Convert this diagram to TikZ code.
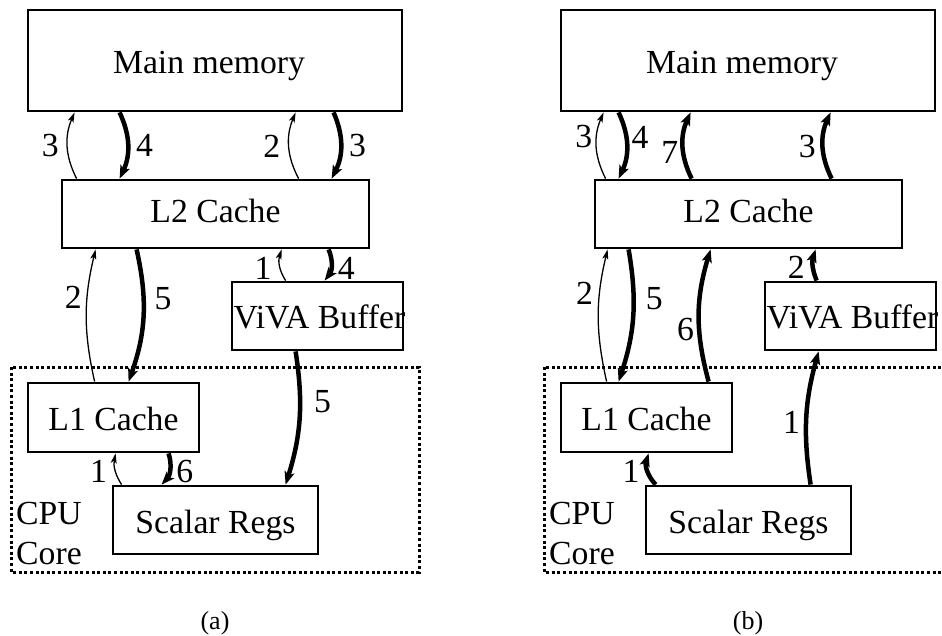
\documentclass[tikz,border=0pt]{standalone}
\usepackage{fontspec}
\setmainfont{Liberation Serif}
\usetikzlibrary{arrows.meta}

% One memory-hierarchy panel: boxes, dotted CPU core frame and caption
\newcommand{\memboxes}[2]{%
  \node[box, minimum width=374pt, minimum height=101pt, text height=27pt] (mm#1) at (215,60.5) {\hspace*{-12pt}Main memory};
  \node[box, minimum width=307pt, minimum height=68pt, text height=18pt] (ltwo#1) at (215.5,214) {L2 Cache};
  \node[box, minimum width=171pt, minimum height=68pt, text height=24pt] (vb#1) at (317.5,316) {\makebox[168pt][l]{ViVA Buffer}};
  \node[box, minimum width=171pt, minimum height=69pt] (lone#1) at (113.5,417.5) {L1 Cache};
  \node[box, minimum width=205pt, minimum height=68pt] (sr#1) at (215.5,520) {Scalar Regs};
  \draw[corebox] (11,367) rectangle (419,572);
  \node[lbl, anchor=base west] (cpu#1) at (16,524) {CPU};
  \node[lbl, anchor=base west] (core#1) at (16,564) {Core};
  \node[caption] (cap#1) at (215,629) {(#2)};
}

\begin{document}
\begin{tikzpicture}[x=1pt,y=-1pt,
  box/.style={draw, line width=2.8pt, inner sep=0pt,
    font=\fontsize{33.7}{40}\selectfont, text height=26pt, text depth=0pt},
  lbl/.style={inner sep=0pt, font=\fontsize{33.7}{40}\selectfont},
  caption/.style={inner sep=0pt, anchor=base, font=\fontsize{26}{30}\selectfont},
  corebox/.style={line width=3pt, dash pattern=on 3pt off 2.6pt},
  lightflow/.style={line width=1.3pt, -{Stealth[length=10pt,width=6pt,inset=2.5pt]}},
  heavyflow/.style={line width=4.5pt, -{Stealth[length=13pt,width=10pt,inset=3pt]}},
]
\useasboundingbox (0,0) rectangle (942,636);
\clip (0,0) rectangle (942,636);

% ---------------- panel (a) ----------------
\memboxes{a}{a}
\draw[lightflow] ([xshift=16pt]ltwoa.north west) to[bend left=25]
  node[lbl, pos=0.5, left=8pt] (na1) {3} ([xshift=48pt]mma.south west);
\draw[heavyflow] ([xshift=93pt]mma.south west) to[bend left=25]
  node[lbl, pos=0.5, right=6pt] (na2) {4} ([xshift=59pt]ltwoa.north west);
\draw[lightflow] ([xshift=238pt]ltwoa.north west) to[bend left=25]
  node[lbl, pos=0.5, left=8pt] (na3) {2} ([xshift=269pt]mma.south west);
\draw[heavyflow] ([xshift=307pt]mma.south west) to[bend left=25]
  node[lbl, pos=0.5, right=6pt] (na4) {3} ([xshift=271pt]ltwoa.north west);
\draw[lightflow] ([xshift=68pt]lonea.north west) to[bend left=13]
  node[lbl, pos=0.65, left=5pt] (na5) {2} ([xshift=35pt]ltwoa.south west);
\draw[heavyflow] ([xshift=76pt]ltwoa.south west) to[bend left=16]
  node[lbl, pos=0.36, right=9pt] (na6) {5} ([xshift=102pt]lonea.north west);
\draw[lightflow] ([xshift=55pt]vba.north west) to[bend left=25]
  node[lbl, pos=0.41, left=8pt] (na7) {1} ([xshift=221pt]ltwoa.south west);
\draw[heavyflow] ([xshift=268pt]ltwoa.south west) to[bend left=30]
  node[lbl, pos=0.59, right=5pt] (na8) {4} ([xshift=94pt]vba.north west);
\draw[heavyflow] ([xshift=65pt]vba.south west) to[bend left=13]
  node[lbl, pos=0.36, right=12pt] (na9) {5} ([xshift=174pt]sra.north west);
\draw[lightflow] ([xshift=10pt]sra.north west) to[bend left=22]
  node[lbl, pos=0.44, left=8pt] (na10) {1} ([xshift=89pt]lonea.south west);
\draw[heavyflow] ([xshift=142pt]lonea.south west) to[bend left=30]
  node[lbl, pos=0.56, right=5pt] (na11) {6} ([xshift=50pt]sra.north west);

% ---------------- panel (b) ----------------
\begin{scope}[xshift=533pt]
\memboxes{b}{b}
\draw[lightflow] ([xshift=12pt]ltwob.north west) to[bend left=25]
  node[lbl, pos=0.65, left=4pt] (nb1) {3} ([xshift=44pt]mmb.south west);
\draw[heavyflow] ([xshift=59pt]mmb.south west) to[bend left=25]
  node[lbl, pos=0.38, right=3pt] (nb2) {4} ([xshift=25pt]ltwob.north west);
\draw[heavyflow] ([xshift=98pt]ltwob.north west) to[bend left=25]
  node[lbl, pos=0.39, left=3pt] (nb3) {7} ([xshift=131pt]mmb.south west);
\draw[heavyflow] ([xshift=238pt]ltwob.north west) to[bend left=25]
  node[lbl, pos=0.49, left=5pt] (nb4) {3} ([xshift=271pt]mmb.south west);
\draw[lightflow] ([xshift=47pt]loneb.north west) to[bend left=13]
  node[lbl, pos=0.68, left=6pt] (nb5) {2} ([xshift=14pt]ltwob.south west);
\draw[heavyflow] ([xshift=35pt]ltwob.south west) to[bend left=14]
  node[lbl, pos=0.36, right=10pt] (nb6) {5} ([xshift=59pt]loneb.north west);
\draw[heavyflow] ([xshift=149pt]loneb.north west) to[bend left=16]
  node[lbl, pos=0.385, left=3pt] (nb7) {6} ([xshift=117pt]ltwob.south west);
\draw[heavyflow] ([xshift=53pt]vbb.north west) to[bend left=20]
  node[lbl, pos=0.44, left=6pt] (nb8) {2} ([xshift=222pt]ltwob.south west);
\draw[heavyflow] ([xshift=166pt]srb.north west) to[bend left=12]
  node[lbl, pos=0.46, left=4pt] (nb9) {1} ([xshift=55pt]vbb.south west);
\draw[heavyflow] ([xshift=11pt]srb.north west) to[bend left=30]
  node[lbl, pos=0.47, left=6pt] (nb10) {1} ([xshift=89pt]loneb.south west);
\end{scope}
\end{tikzpicture}
\end{document}
